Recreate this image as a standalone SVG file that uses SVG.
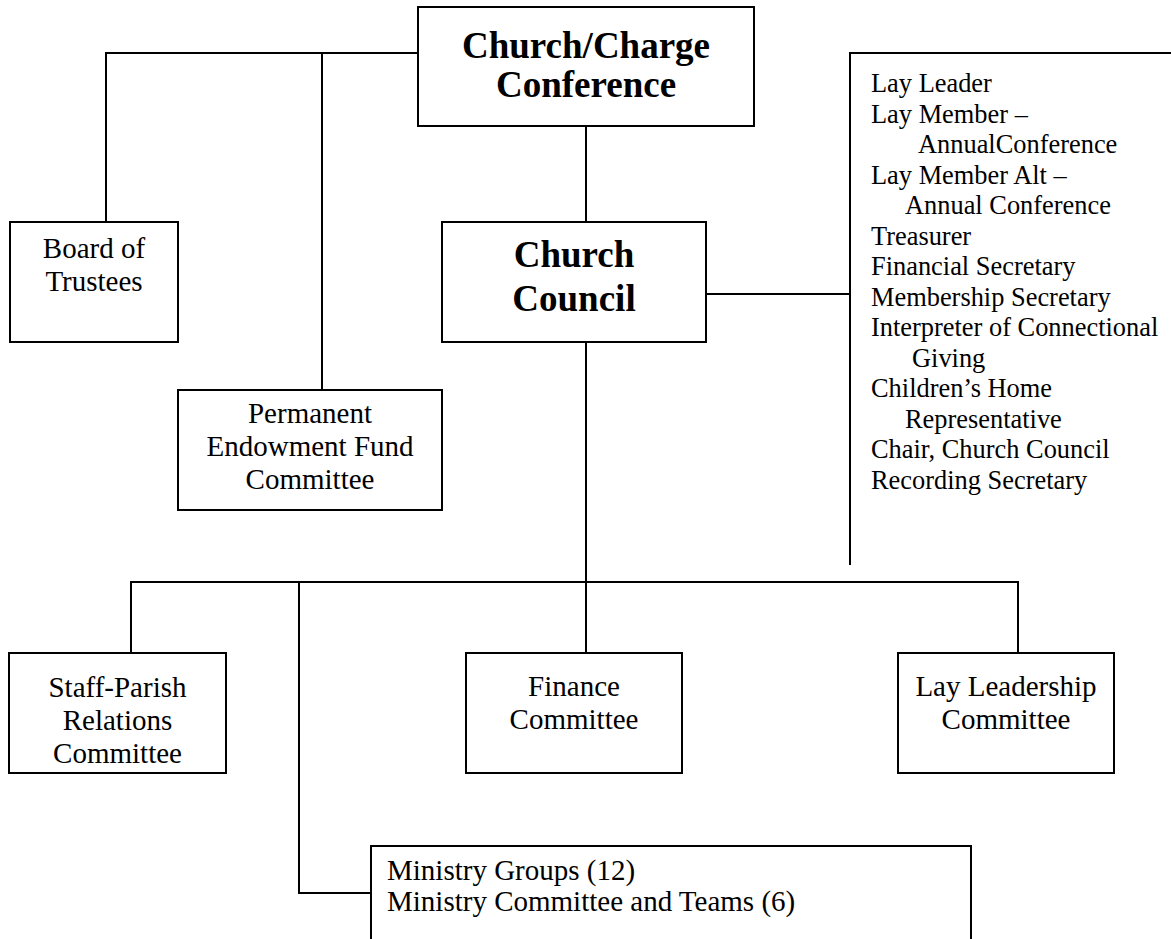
<svg xmlns="http://www.w3.org/2000/svg" width="1171" height="939" viewBox="0 0 1171 939">
<style>
.box{fill:#fff;stroke:#000;stroke-width:2}
.ln{fill:none;stroke:#000;stroke-width:2}
.t{font-family:"Liberation Serif","Times New Roman",serif;font-size:29px;fill:#000;text-anchor:middle}
.b{font-family:"Liberation Serif","Times New Roman",serif;font-size:37px;font-weight:bold;fill:#000;text-anchor:middle}
.l{font-family:"Liberation Serif","Times New Roman",serif;font-size:26.4px;fill:#000}
.m{font-family:"Liberation Serif","Times New Roman",serif;font-size:29px;fill:#000}
</style>
<rect width="1171" height="939" fill="#fff"/>
<g id="connectors">
<path class="ln" d="M418,53 H106 V222 M322,53 V390"/>
<path class="ln" d="M586,126 V222"/>
<path class="ln" d="M706,294 H850"/>
<path class="ln" d="M586,342 V582"/>
<path class="ln" d="M131,653 V582 H1018 V653 M586,582 V653"/>
<path class="ln" d="M299,582 V893 H371"/>
</g>
<g id="charge-conference">
<rect class="box" x="418" y="7" width="336" height="119"/>
<text class="b" x="586" y="58">Church/Charge</text>
<text class="b" x="586" y="97">Conference</text>
</g>
<g id="board-of-trustees">
<rect class="box" x="10" y="222" width="168" height="120"/>
<text class="t" x="94" y="258">Board of</text>
<text class="t" x="94" y="291">Trustees</text>
</g>
<g id="church-council">
<rect class="box" x="442" y="222" width="264" height="120"/>
<text class="b" x="574" y="267">Church</text>
<text class="b" x="574" y="311">Council</text>
</g>
<g id="permanent-endowment">
<rect class="box" x="178" y="390" width="264" height="120"/>
<text class="t" x="310" y="423">Permanent</text>
<text class="t" x="310" y="456">Endowment Fund</text>
<text class="t" x="310" y="489">Committee</text>
</g>
<g id="officers-list">
<path class="ln" d="M1173,53 H850 V565"/>
<text class="l" x="871" y="92">Lay Leader</text>
<text class="l" x="871" y="122.5">Lay Member –</text>
<text class="l" x="918" y="153">AnnualConference</text>
<text class="l" x="871" y="183.5">Lay Member Alt –</text>
<text class="l" x="905" y="214">Annual Conference</text>
<text class="l" x="871" y="244.5">Treasurer</text>
<text class="l" x="871" y="275">Financial Secretary</text>
<text class="l" x="871" y="305.5">Membership Secretary</text>
<text class="l" x="871" y="336">Interpreter of Connectional</text>
<text class="l" x="912" y="366.5">Giving</text>
<text class="l" x="871" y="397">Children’s Home</text>
<text class="l" x="905" y="427.5">Representative</text>
<text class="l" x="871" y="458">Chair, Church Council</text>
<text class="l" x="871" y="488.5">Recording Secretary</text>
</g>
<g id="staff-parish">
<rect class="box" x="9" y="653" width="217" height="120"/>
<text class="t" x="117.5" y="697">Staff-Parish</text>
<text class="t" x="117.5" y="730">Relations</text>
<text class="t" x="117.5" y="763">Committee</text>
</g>
<g id="finance">
<rect class="box" x="466" y="653" width="216" height="120"/>
<text class="t" x="574" y="696">Finance</text>
<text class="t" x="574" y="729">Committee</text>
</g>
<g id="lay-leadership">
<rect class="box" x="898" y="653" width="216" height="120"/>
<text class="t" x="1006" y="696">Lay Leadership</text>
<text class="t" x="1006" y="729">Committee</text>
</g>
<g id="ministry">
<path class="ln" d="M371,945 V846 H971 V945"/>
<text class="m" x="387" y="880">Ministry Groups (12)</text>
<text class="m" x="387" y="911">Ministry Committee and Teams (6)</text>
</g>
</svg>
